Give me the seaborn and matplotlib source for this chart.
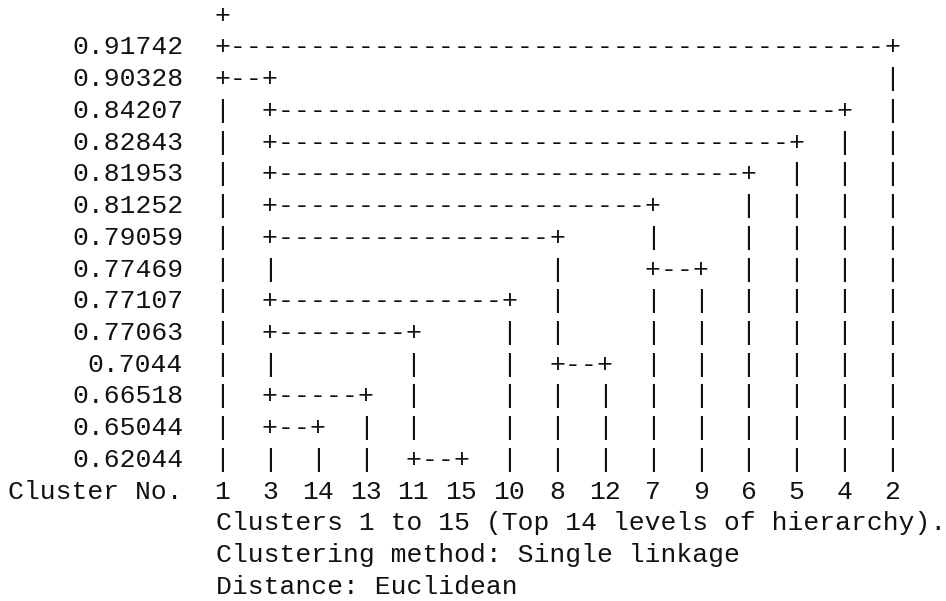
import matplotlib
matplotlib.use("Agg")
import matplotlib.pyplot as plt
import seaborn as sns

# ---- data ----
levels = [0.91742, 0.90328, 0.84207, 0.82843, 0.81953, 0.81252, 0.79059,
          0.77469, 0.77107, 0.77063, 0.7044, 0.66518, 0.65044, 0.62044]
leaf_order = [1, 3, 14, 13, 11, 15, 10, 8, 12, 7, 9, 6, 5, 4, 2]
merge_left = [1, 1, 3, 3, 3, 3, 3, 7, 3, 3, 8, 3, 3, 11]
merge_right = [2, 3, 4, 5, 6, 7, 8, 9, 10, 11, 12, 13, 14, 15]
row_title = "Cluster No."
captions = ["Clusters 1 to 15 (Top 14 levels of hierarchy).",
            "Clustering method: Single linkage",
            "Distance: Euclidean"]

sns.set_style("white")
plt.rcParams['font.family'] = ['Liberation Mono', 'DejaVu Sans Mono']

W, H = 946, 601
fig = plt.figure(figsize=(W / 100, H / 100), dpi=100)
ax = fig.add_axes([0, 0, 1, 1])
ax.set_axis_off()

# pixel mapping of the character grid
x0_px, dx_px = 222.0, 47.86       # leaf column 0 and step between leaves
y0_px, dy_px = 45.0, 31.72        # level row 0 and step between rows
ax.set_xlim(-x0_px / dx_px, (W - x0_px) / dx_px)
ax.set_ylim((H - y0_px) / dy_px, -y0_px / dy_px)

fs = 19.0
kw = dict(fontsize=fs, color="#111111", va="center_baseline")

pos = {leaf: i for i, leaf in enumerate(leaf_order)}
n_rows = len(levels)

# endpoints per row
endpoints = {}
for r, (a, b) in enumerate(zip(merge_left, merge_right)):
    endpoints.setdefault(pos[a], set()).add(r)
    endpoints.setdefault(pos[b], set()).add(r)

root = pos[merge_left[0]]
ax.text(root, -1, "+", ha="center", **kw)

# vertical parts and plus signs
for p in range(len(leaf_order)):
    rows = endpoints.get(p, set())
    top = -1 if p == root else min(rows)
    for r in range(top + 1 if p == root else top, n_rows):
        ax.text(p, r, "+" if r in rows else "|", ha="center", **kw)

# horizontal dashes (every character cell between the two ends)
for r, (a, b) in enumerate(zip(merge_left, merge_right)):
    pa, pb = sorted((pos[a], pos[b]))
    n_cells = 3 * (pb - pa)
    for k in range(1, n_cells):
        ax.text(pa + k / 3, r, "-", ha="center", **kw)

# level labels
lab_x = (183 - x0_px) / dx_px
for r, v in enumerate(levels):
    ax.text(lab_x, r, f"{v:g}", ha="right", **kw)

# leaf labels
ax.text(lab_x, n_rows, row_title, ha="right", **kw)
for p, leaf in enumerate(leaf_order):
    ax.text(p, n_rows, str(leaf), ha="center", **kw)

# captions
cap_x = (216 - x0_px) / dx_px
for i, c in enumerate(captions):
    ax.text(cap_x, n_rows + 1 + i, c, ha="left", **kw)

fig.savefig("out.png", dpi=100, facecolor="white")
